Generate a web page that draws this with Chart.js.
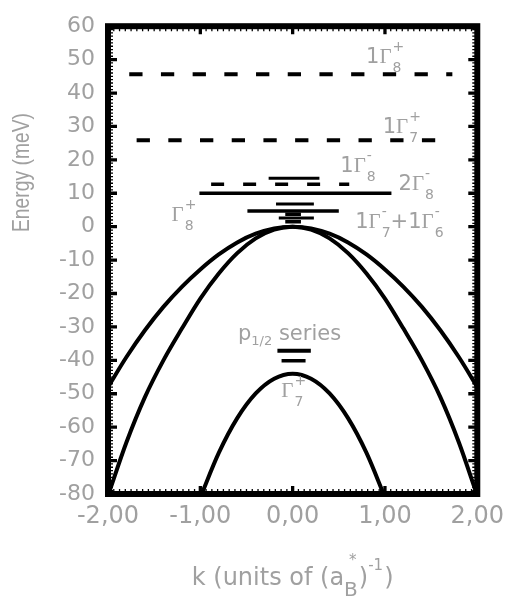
<!DOCTYPE html>
<html><head><meta charset="utf-8">
<script src="https://cdn.jsdelivr.net/npm/chart.js@4.4.0/dist/chart.umd.min.js"></script>
<style>html,body{margin:0;padding:0;background:#fff;}#wrap{width:512px;height:597px;position:relative;}</style>
</head><body><div id="wrap"><canvas id="c"></canvas></div>
<script>
// ---- data ----
const kGrid = [-2.0,-1.8,-1.6,-1.4,-1.2,-1.0,-0.8,-0.6,-0.4,-0.2,0.0,0.2,0.4,0.6,0.8,1.0,1.2,1.4,1.6,1.8,2.0];
const heavyHole = [-48.0,-39.0,-31.0,-24.0,-18.0,-12.8,-8.3,-4.7,-2.1,-0.5,0.0,-0.5,-2.1,-4.7,-8.3,-12.8,-18.0,-24.0,-31.0,-39.0,-48.0];
const lightHole = [-80.5,-64.5,-51.0,-40.0,-30.5,-21.5,-14.0,-7.9,-3.5,-0.9,0.0,-0.9,-3.5,-7.9,-14.0,-21.5,-30.5,-40.0,-51.0,-64.5,-80.5];
const kSplit = [-1.0,-0.8,-0.6,-0.4,-0.2,0.0,0.2,0.4,0.6,0.8,1.0];
const splitOff = [-81.0,-67.7,-57.3,-49.9,-45.5,-44.0,-45.5,-49.9,-57.3,-67.7,-81.0];

const levelEnergy = [45.6, 25.9, 14.5, 12.7, 10.0, 6.8, 4.7, 2.6, 3.7, 1.5, -37.1, -40.1];
const levelKStart = [-1.77,-1.69,-0.26,-0.883,-1.01,-0.18,-0.49,-0.15,-0.08,-0.08,-0.165,-0.12];
const levelKEnd   = [1.73, 1.73, 0.29, 0.613, 1.07, 0.23, 0.50, 0.23, 0.09, 0.09, 0.197, 0.14];

const xTicks = [-2,-1,0,1,2];
const xTickLabels = ['-2,00','-1,00','0,00','1,00','2,00'];
const yTicks = [60,50,40,30,20,10,0,-10,-20,-30,-40,-50,-60,-70,-80];

// ---- styles ----
const levelDash  = [[13.3,18.4],[13.3,18.4],[],[13,19],[],[],[],[],[],[],[],[]];
const levelWidth = [4,4,3,3.5,3.5,3,3.5,3,3.5,3.5,4,3.5];
const GRAY = '#a0a0a0';
const MAIN = '21px "DejaVu Sans"', GREEK = '21px "Liberation Serif"', SMALL = '14px "DejaVu Sans"';

// labels: anchor (k, E) of left/baseline of the first glyph
const labels = [
  {k:0.795, E:49.1, parts:[{t:'1'},{g:'Γ'},{sub:'8',sup:'+'}]},
  {k:0.976, E:28.0, parts:[{t:'1'},{g:'Γ'},{sub:'7',sup:'+'}]},
  {k:0.517, E:16.3, parts:[{t:'1'},{g:'Γ'},{sub:'8',sup:'-'}]},
  {k:1.147, E:11.0, parts:[{t:'2'},{g:'Γ'},{sub:'8',sup:'-'}]},
  {k:-1.312, E:1.8, parts:[{g:'Γ'},{sub:'8',sup:'+'}]},
  {k:0.677, E:-0.3, parts:[{t:'1'},{g:'Γ'},{sub:'7',sup:'-'},{t:'+1'},{g:'Γ'},{sub:'6',sup:'-'}]},
  {k:-0.592, E:-33.8, parts:[{t:'p'},{sub:'1/2',subFont:'13px "DejaVu Sans"',subDy:5},{t:' series'}]},
  {k:-0.123, E:-50.9, parts:[{g:'Γ'},{sub:'7',sup:'+'}]}
];

function pts(xs, ys){ return xs.map((x,i)=>({x:x, y:ys[i]})); }
const datasets = [];
[[kGrid,heavyHole],[kGrid,lightHole],[kSplit,splitOff]].forEach(([xs,ys])=>{
  datasets.push({data:pts(xs,ys), showLine:true, borderColor:'#000', borderWidth:4, pointRadius:0,
    cubicInterpolationMode:'monotone', fill:false});
});
levelEnergy.forEach((E,i)=>{
  datasets.push({data:[{x:levelKStart[i],y:E},{x:levelKEnd[i],y:E}], showLine:true, borderColor:'#000',
    borderWidth:levelWidth[i], pointRadius:0, borderDash: levelDash[i], fill:false});
});

function drawParts(ctx, x, y, parts){
  ctx.textBaseline = 'alphabetic'; ctx.textAlign = 'left'; ctx.fillStyle = GRAY;
  for (const p of parts){
    if (p.t !== undefined){ ctx.font = MAIN; ctx.fillText(p.t, x, y); x += ctx.measureText(p.t).width; }
    else if (p.g !== undefined){ ctx.font = GREEK; ctx.fillText(p.g, x, y); x += ctx.measureText(p.g).width + 1; }
    else {
      let w = 0;
      if (p.sub){ ctx.font = p.subFont || SMALL; ctx.fillText(p.sub, x, y + (p.subDy !== undefined ? p.subDy : 9)); w = Math.max(w, ctx.measureText(p.sub).width); }
      if (p.sup){ ctx.font = SMALL; ctx.fillText(p.sup, x, y - 12); w = Math.max(w, ctx.measureText(p.sup).width); }
      x += w;
    }
  }
  return x;
}

// x-axis title pieces
const xTitleParts = [{t:'k (units of (a'},{sub:'B',sup:'*'},{t:')'},{sup:'-1'},{t:')'}];
function xTitle(ctx, x, y, draw){
  ctx.fillStyle = GRAY; ctx.textBaseline = 'alphabetic'; ctx.textAlign = 'left';
  for (const p of xTitleParts){
    if (p.t !== undefined){ ctx.font = '24px "DejaVu Sans"'; if (draw) ctx.fillText(p.t, x, y); x += ctx.measureText(p.t).width; }
    else {
      let w = 0;
      if (p.sub){ ctx.font = '20px "DejaVu Sans"'; if (draw) ctx.fillText(p.sub, x, y + 11); w = Math.max(w, ctx.measureText(p.sub).width); }
      if (p.sup){ ctx.font = '15px "DejaVu Sans"'; const sx = p.sub ? x + 5 : x; if (draw) ctx.fillText(p.sup, sx, y - (p.sub ? 20 : 15)); w = Math.max(w, ctx.measureText(p.sup).width + (p.sub?5:0)); }
      x += w + 1;
    }
  }
  return x;
}

const deco = {
  id:'deco',
  afterDraw(chart){
    const {ctx, chartArea:{left,right,top,bottom}, scales:{x,y}} = chart;
    ctx.save();
    ctx.strokeStyle = '#000';
    // minor ticks
    ctx.lineWidth = 1.3;
    ctx.beginPath();
    for (let v = -2; v <= 2.0001; v += 0.0625){ const px = x.getPixelForValue(v); ctx.moveTo(px, top); ctx.lineTo(px, top+5); ctx.moveTo(px, bottom); ctx.lineTo(px, bottom-5); }
    for (let v = -80; v <= 60; v += 1){ const py = y.getPixelForValue(v); ctx.moveTo(left, py); ctx.lineTo(left+5, py); ctx.moveTo(right, py); ctx.lineTo(right-5, py); }
    ctx.stroke();
    // major ticks
    ctx.lineWidth = 3.3;
    ctx.beginPath();
    xTicks.forEach(v=>{ const px = x.getPixelForValue(v); ctx.moveTo(px, top); ctx.lineTo(px, top+8); ctx.moveTo(px, bottom); ctx.lineTo(px, bottom-8); });
    yTicks.forEach(v=>{ const py = y.getPixelForValue(v); ctx.moveTo(left, py); ctx.lineTo(left+9, py); ctx.moveTo(right, py); ctx.lineTo(right-9, py); });
    ctx.stroke();
    // frame
    ctx.lineWidth = 6;
    ctx.strokeRect(left, top, right-left, bottom-top);
    // labels
    labels.forEach(l=> drawParts(ctx, x.getPixelForValue(l.k), y.getPixelForValue(l.E), l.parts));
    // x title, centred on the plot
    const w = xTitle(ctx, 0, 0, false);
    xTitle(ctx, (left+right)/2 - w/2, 585, true);
    // y title (Arial-like, thickened across the text direction)
    ctx.save();
    ctx.font = '19.5px "Liberation Sans"'; ctx.fillStyle = GRAY; ctx.textAlign = 'center'; ctx.textBaseline = 'alphabetic';
    const txt = 'Energy (meV)';
    const tw = ctx.measureText(txt).width;
    ctx.translate(29, 172.5); ctx.rotate(-Math.PI/2); ctx.scale(119/tw, 1.2);
    ctx.fillText(txt, 0, 0);
    ctx.restore();
    ctx.restore();
  }
};

new Chart(document.getElementById('c'), {
  type:'scatter',
  data:{datasets},
  options:{
    responsive:true, maintainAspectRatio:false, animation:false, events:[],
    layout:{padding:{top:18,right:29,left:0,bottom:0}},
    plugins:{legend:{display:false}, tooltip:{enabled:false}},
    scales:{
      x:{type:'linear', min:-2, max:2,
         afterBuildTicks:s=>{ s.ticks = xTicks.map(v=>({value:v})); },
         afterFit:s=>{ s.height = 103; },
         grid:{display:false, drawTicks:false}, border:{display:false},
         ticks:{color:GRAY, font:{family:'DejaVu Sans', size:24}, padding:8, maxRotation:0, autoSkip:false,
                callback:(v)=>{ const i = xTicks.indexOf(v); return i>=0 ? xTickLabels[i] : ''; }}},
      y:{type:'linear', min:-80, max:60,
         afterBuildTicks:s=>{ s.ticks = yTicks.map(v=>({value:v})); },
         afterFit:s=>{ s.width = 108; },
         grid:{display:false, drawTicks:false}, border:{display:false},
         ticks:{color:GRAY, font:{family:'DejaVu Sans', size:22}, padding:13, autoSkip:false,
                callback:(v)=>String(v)}}
    }
  },
  plugins:[deco]
});
</script></body></html>
